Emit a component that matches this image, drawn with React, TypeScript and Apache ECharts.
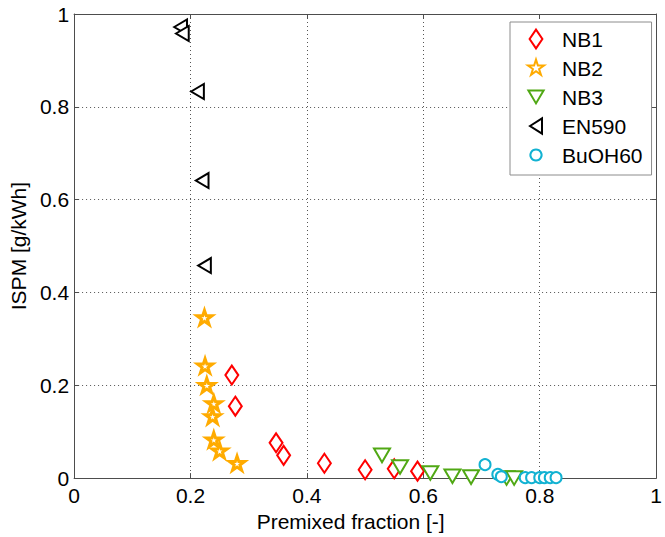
import React, { useEffect, useRef } from "react";
import * as echarts from "echarts";

// Premixed fraction [-] (x) and ISPM [g/kWh] (y) for each fuel
const nb1X = [0.271, 0.277, 0.347, 0.36, 0.43, 0.5, 0.55, 0.59];
const nb1Y = [0.222, 0.155, 0.076, 0.049, 0.032, 0.018, 0.02, 0.015];

const nb2X = [0.224, 0.225, 0.228, 0.24, 0.238, 0.24, 0.25, 0.28];
const nb2Y = [0.346, 0.242, 0.2, 0.161, 0.133, 0.083, 0.059, 0.032];

const nb3X = [0.529, 0.56, 0.612, 0.65, 0.682, 0.743, 0.756];
const nb3Y = [0.049, 0.024, 0.011, 0.004, 0.002, 0.0, 0.0];

const en590X = [0.183, 0.186, 0.212, 0.22, 0.224];
const en590Y = [0.972, 0.958, 0.833, 0.641, 0.458];

const buoh60X = [0.706, 0.728, 0.734, 0.775, 0.786, 0.8, 0.808, 0.818, 0.828];
const buoh60Y = [0.029, 0.008, 0.003, 0.001, 0.001, 0.001, 0.001, 0.001, 0.001];

const seriesNames = ["NB1", "NB2", "NB3", "EN590", "BuOH60"];
const tickValues = [0, 0.2, 0.4, 0.6, 0.8, 1];

// Marker outlines
const DIAMOND = "path://M34 0 L68 50 L34 100 L0 50 Z";
const STAR =
  "path://M50 0 L61.23 34.55 L97.55 34.55 L68.17 55.9 L79.39 90.45 L50 69.1 L20.61 90.45 L31.83 55.9 L2.45 34.55 L38.77 34.55 Z";
const TRI_DOWN = "path://M0 0 L100 0 L50 85 Z";
const TRI_LEFT = "path://M0 50 L85 0 L85 100 Z";

// Legend icons share one 100x100 frame (corner moves pin the bounds),
// so each keeps its own size inside the legend's icon box.
const FRAME = "M0 0 M100 100 ";
const LEG_DIAMOND = "path://" + FRAME + "M50 3 L82 50 L50 97 L18 50 Z";
const LEG_STAR =
  "path://" + FRAME +
  "M50 8 L59.5 37.2 L90.3 37.2 L65.4 55.3 L74.9 84.6 L50 66.5 L25.1 84.6 L34.6 55.3 L9.7 37.2 L40.5 37.2 Z";
const LEG_TRI_DOWN = "path://" + FRAME + "M12 18 L88 18 L50 82 Z";
const LEG_TRI_LEFT = "path://" + FRAME + "M20 50 L80 12 L80 88 Z";
const LEG_CIRCLE =
  "path://" + FRAME + "M50 22 A28 28 0 1 1 49.99 22 Z";
const legendIcons = [LEG_DIAMOND, LEG_STAR, LEG_TRI_DOWN, LEG_TRI_LEFT, LEG_CIRCLE];

const FONT = "'Liberation Sans', Arial, sans-serif";

const zip = (xs: number[], ys: number[]) => xs.map((x, i) => [x, ys[i]]);

export default function App() {
  const ref = useRef<HTMLDivElement>(null);

  useEffect(() => {
    document.body.style.margin = "0";
    document.body.style.overflow = "hidden";
    const chart = echarts.init(ref.current!, undefined, { renderer: "svg" });

    const fmt = (v: number) => String(Math.round(v * 10) / 10);

    const baseAxis = {
      type: "value" as const,
      min: tickValues[0],
      max: tickValues[tickValues.length - 1],
      interval: tickValues[1] - tickValues[0],
      axisLine: { show: true, onZero: false, lineStyle: { color: "#4d4d4d", width: 1 } },
      axisTick: { show: true, inside: true, length: 5, lineStyle: { color: "#4d4d4d" } },
    };

    const mk = (
      name: string,
      data: number[][],
      symbol: string,
      size: number,
      color: string,
      lw: number
    ) => ({
      name,
      type: "scatter",
      data,
      symbol,
      symbolSize: size,
      symbolKeepAspect: true,
      clip: false,
      itemStyle: { color: "#ffffff", borderColor: color, borderWidth: lw, opacity: 1 },
      emphasis: { disabled: true },
    });

    chart.setOption({
      animation: false,
      backgroundColor: "#ffffff",
      textStyle: { fontFamily: FONT },
      grid: { left: 73, right: 3, top: 14, bottom: 58, containLabel: false },
      xAxis: [
        {
          ...baseAxis,
          position: "bottom",
          name: "Premixed fraction [-]",
          nameLocation: "middle",
          nameGap: 31,
          nameTextStyle: { fontSize: 21, color: "#000", fontFamily: FONT, padding: [0, 29, 0, 0] },
          axisLabel: { fontSize: 21, color: "#000", margin: 7, fontFamily: FONT, formatter: fmt },
          splitLine: { show: true, lineStyle: { color: "#555", width: 1, type: [1, 3] } },
        },
        {
          ...baseAxis,
          position: "top",
          axisLabel: { show: false },
          splitLine: { show: false },
        },
      ],
      yAxis: [
        {
          ...baseAxis,
          position: "left",
          name: "ISPM [g/kWh]",
          nameLocation: "middle",
          nameGap: 44,
          nameRotate: 90,
          nameTextStyle: { fontSize: 21, color: "#000", fontFamily: FONT },
          axisLabel: { fontSize: 21, color: "#000", margin: 5, fontFamily: FONT, formatter: fmt },
          splitLine: { show: true, lineStyle: { color: "#555", width: 1, type: [1, 3] } },
        },
        {
          ...baseAxis,
          position: "right",
          axisLabel: { show: false },
          splitLine: { show: false },
        },
      ],
      legend: {
        orient: "vertical",
        left: 510,
        top: 22,
        data: seriesNames.map((name, i) => ({ name, icon: legendIcons[i] })),
        itemWidth: 20,
        itemHeight: 20,
        itemGap: 7,
        padding: [6, 9, 9, 15],
        backgroundColor: "#ffffff",
        borderColor: "#8c8c8c",
        borderWidth: 1,
        borderRadius: 0,
        selectedMode: false,
        textStyle: { fontSize: 21, color: "#000", fontFamily: FONT, padding: [0, 0, 0, 11] },
      },
      series: [
        mk(seriesNames[0], zip(nb1X, nb1Y), DIAMOND, 19, "#ff0000", 2),
        mk(seriesNames[1], zip(nb2X, nb2Y), STAR, 15, "#ffab00", 3),
        mk(seriesNames[2], zip(nb3X, nb3Y), TRI_DOWN, 16, "#50a814", 2),
        mk(seriesNames[3], zip(en590X, en590Y), TRI_LEFT, 15, "#000000", 2),
        mk(seriesNames[4], zip(buoh60X, buoh60Y), "circle", 11, "#12b2d2", 2),
      ],
    });

    return () => chart.dispose();
  }, []);

  return <div ref={ref} style={{ width: 665, height: 537 }} />;
}
